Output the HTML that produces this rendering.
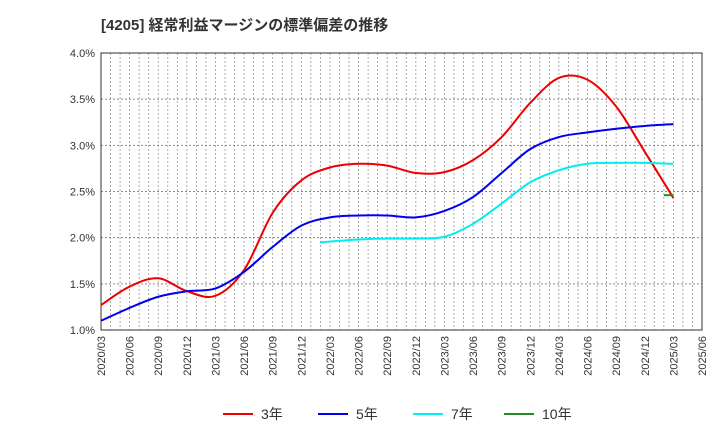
<!DOCTYPE html>
<html><head><meta charset="utf-8"><style>
body{margin:0;background:#fff;font-family:"Liberation Sans","Noto Sans CJK JP",sans-serif}
</style></head><body>
<svg id="c" width="720" height="440" xmlns="http://www.w3.org/2000/svg" style="font-family:'Liberation Sans','Noto Sans CJK JP',sans-serif">
<text x="101" y="30" font-size="15" font-weight="bold" fill="#333">[4205]  経常利益マージンの標準偏差の推移</text>
<g id="grid"></g><g id="axes"></g><g id="series"></g><g id="legend"></g>
</svg>
<script>
const xLabels=["2020/03","2020/06","2020/09","2020/12","2021/03","2021/06","2021/09","2021/12","2022/03","2022/06","2022/09","2022/12","2023/03","2023/06","2023/09","2023/12","2024/03","2024/06","2024/09","2024/12","2025/03","2025/06"];
const yTicks=[1.0,1.5,2.0,2.5,3.0,3.5,4.0];
const months3=[0,3,6,9,12,15,18,21,24,27,30,33,36,39,42,45,48,51,54,57,60];
const s3=[1.27,1.47,1.56,1.42,1.37,1.65,2.27,2.62,2.76,2.80,2.78,2.70,2.71,2.84,3.09,3.46,3.73,3.71,3.42,2.93,2.43];
const months5=months3;
const s5=[1.10,1.24,1.36,1.42,1.45,1.63,1.90,2.13,2.22,2.24,2.24,2.22,2.29,2.44,2.70,2.96,3.09,3.14,3.18,3.21,3.23];
const months7=[23,27,30,33,36,39,42,45,48,51,54,57,60];
const s7=[1.95,1.98,1.99,1.99,2.01,2.15,2.37,2.60,2.73,2.80,2.81,2.81,2.80];
const months10=[59,60];
const s10=[2.46,2.46];
const L=101,R=702,T=53,B=330,ns="http://www.w3.org/2000/svg";
const X=m=>L+(R-L)*m/63, Y=v=>B-(v-1)*(B-T)/3;
function mk(p,t,a){const e=document.createElementNS(ns,t);for(const k in a)e.setAttribute(k,a[k]);document.getElementById(p).appendChild(e);return e;}
for(let m=0;m<=63;m++){const l=mk('grid','line',{x1:X(m),x2:X(m),y1:T,y2:B,stroke:'#999','stroke-dasharray':'2,2','stroke-width':0.8});
}
yTicks.forEach(v=>{const l=mk('grid','line',{x1:L,x2:R,y1:Y(v),y2:Y(v),stroke:'#888','stroke-dasharray':'2,2'});

const t=mk('axes','text',{x:L-6,y:Y(v)+4,'text-anchor':'end','font-size':11,fill:'#333'});t.textContent=v.toFixed(1)+'%';
});
const fr=mk('axes','rect',{x:L,y:T,width:R-L,height:B-T,fill:'none',stroke:'#333'});

xLabels.forEach((s,i)=>{const x=X(i*3),t=mk('axes','text',{x:x+4,y:B+6,'text-anchor':'end','font-size':11,fill:'#333',transform:`rotate(-90 ${x+4} ${B+6})`});t.textContent=s;
});
function path(ms,vs){const p=ms.map((m,i)=>[X(m),Y(vs[i])]);let d=`M${p[0][0]},${p[0][1]}`;
for(let i=0;i<p.length-1;i++){const p0=p[i-1]||p[i],p1=p[i],p2=p[i+1],p3=p[i+2]||p2;
d+=`C${p1[0]+(p2[0]-p0[0])/6},${p1[1]+(p2[1]-p0[1])/6} ${p2[0]-(p3[0]-p1[0])/6},${p2[1]-(p3[1]-p1[1])/6} ${p2[0]},${p2[1]}`;}return d;}
const ser=[[months3,s3,'#ee0000','3年','series-3y'],[months5,s5,'#0000ee','5年','series-5y'],[months7,s7,'#00eeee','7年','series-7y'],[months10,s10,'#228b22','10年','series-10y']];
ser.forEach(([m,v,c,n,id],i)=>{const e=mk('series','path',{d:path(m,v),fill:'none',stroke:c,'stroke-width':2});

const lx=[223,318,413,504][i];
const ll=mk('legend','line',{x1:lx,x2:lx+30,y1:414,y2:414,stroke:c,'stroke-width':2});

const t=mk('legend','text',{x:lx+38,y:419,'font-size':14,fill:'#333'});t.textContent=n;
});
</script>
</body></html>
